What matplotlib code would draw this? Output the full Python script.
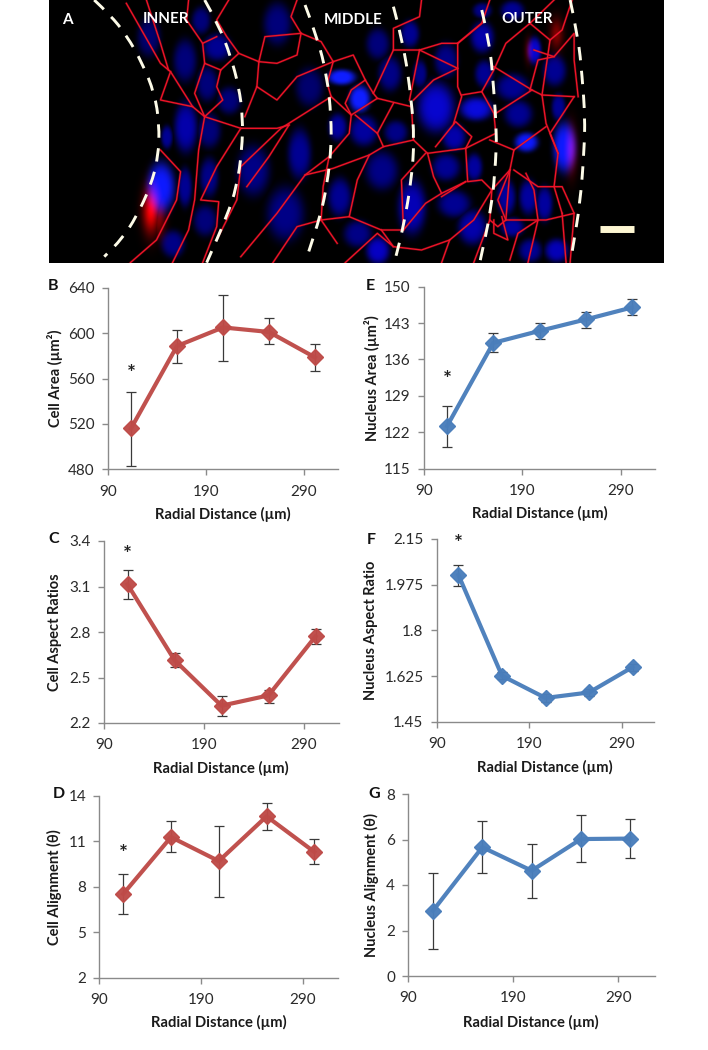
import numpy as np
import matplotlib
matplotlib.use("Agg")
import matplotlib.pyplot as plt
from matplotlib.path import Path
from matplotlib.patches import PathPatch

W, H = 708, 1050
plt.rcParams['font.family'] = ['Lato', 'DejaVu Sans']

radial = [113.5, 160.5, 207.5, 254.5, 301.5]

cell_area = [516, 588.6, 605, 601, 578.6]
cell_area_hi = [547.8, 603, 634, 613, 590]
cell_area_lo = [483, 574, 575.7, 590, 566.6]

cell_ratio = [3.114, 2.615, 2.314, 2.382, 2.771]
cell_ratio_hi = [3.207, 2.66, 2.378, 2.42, 2.82]
cell_ratio_lo = [3.018, 2.571, 2.246, 2.334, 2.719]

cell_align = [7.52, 11.27, 9.69, 12.64, 10.29]
cell_align_hi = [8.81, 12.33, 12.02, 13.49, 11.16]
cell_align_lo = [6.2, 10.26, 7.32, 11.71, 9.49]

nuc_area = [123.2, 139.2, 141.5, 143.7, 146]
nuc_area_hi = [127.1, 141, 143.1, 145.1, 147.6]
nuc_area_lo = [119.2, 137.4, 139.9, 142, 144.5]

nuc_ratio = [2.012, 1.626, 1.541, 1.562, 1.659]
nuc_ratio_hi = [2.05, 1.64, 1.555, 1.575, 1.672]
nuc_ratio_lo = [1.971, 1.612, 1.527, 1.549, 1.646]

nuc_align = [2.87, 5.66, 4.63, 6.02, 6.04]
nuc_align_hi = [4.54, 6.83, 5.79, 7.06, 6.9]
nuc_align_lo = [1.2, 4.54, 3.43, 5.0, 5.2]

x_ticks = [90, 190, 290]
RED, BLUE = '#BE4B48', '#4A7EBB'

# panel: letter, ylabel, values, hi, lo, yticks, ticklabels, colour, axes px box (l, r, top, bottom),
# star value, letter px, ylabel px x
panels = [
    ('B', 'Cell Area (µm²)', cell_area, cell_area_hi, cell_area_lo, [480, 520, 560, 600, 640],
     ['480', '520', '560', '600', '640'], RED, (108, 338, 287.7, 469.3), 564, (53, 286), 55),
    ('C', 'Cell Aspect Ratios', cell_ratio, cell_ratio_hi, cell_ratio_lo, [2.2, 2.5, 2.8, 3.1, 3.4],
     ['2.2', '2.5', '2.8', '3.1', '3.4'], RED, (104, 339, 541, 723), 3.31, (54, 539), 55),
    ('D', 'Cell Alignment (θ)', cell_align, cell_align_hi, cell_align_lo, [2, 5, 8, 11, 14],
     ['2', '5', '8', '11', '14'], RED, (99.3, 338.3, 795.7, 977.7), 10.15, (59, 794), 54),
    ('E', 'Nucleus Area (µm²)', nuc_area, nuc_area_hi, nuc_area_lo, [115, 122, 129, 136, 143, 150],
     ['115', '122', '129', '136', '143', '150'], BLUE, (424, 655, 286.7, 468.7), 132, (370, 286), 371.5),
    ('F', 'Nucleus Aspect Ratio', nuc_ratio, nuc_ratio_hi, nuc_ratio_lo, [1.45, 1.625, 1.8, 1.975, 2.15],
     ['1.45', '1.625', '1.8', '1.975', '2.15'], BLUE, (436.7, 654.3, 539, 721.7), 2.13, (371, 540), 371.5),
    ('G', 'Nucleus Alignment (θ)', nuc_align, nuc_align_hi, nuc_align_lo, [0, 2, 4, 6, 8],
     ['0', '2', '4', '6', '8'], BLUE, (408.3, 655, 794, 976), None, (374, 794), 371.5),
]
xlabel_px = {'B': (222.5, 514), 'C': (221, 768), 'D': (218.5, 1022), 'E': (540, 513), 'F': (545, 767), 'G': (531, 1022)}

# Micrograph A: features, (x, y) in zoom units
# x, y, width, height, brightness
nuclei = [
    (270,110,50,100,.35),(360,180,50,110,.4),(400,60,40,70,.4),(440,140,60,70,.5),(415,250,45,90,.4),
    (470,300,50,70,.4),(362,380,50,130,.6),(315,410,25,60,.5),(300,560,60,130,.95),(360,560,30,100,.5),
    (420,390,50,90,.4),(420,530,40,100,.45),(410,660,50,80,.4),(330,730,50,70,.45),(530,510,70,130,.45),
    (590,70,60,110,.4),(670,260,60,100,.35),(645,460,50,130,.5),(610,640,80,140,.45),(750,230,60,40,1.0),
    (795,295,45,70,1.0),(740,380,40,70,.55),(805,390,60,80,.55),(885,395,50,60,.45),(850,510,70,100,.45),
    (745,590,50,100,.5),(790,700,60,70,.45),(840,750,50,70,.7),(840,130,50,80,.4),(870,220,50,90,.45),
    (920,100,40,70,.5),(945,220,30,70,.45),(985,320,80,130,.75),(1085,325,70,60,.8),(1030,410,50,70,.6),
    (1010,180,50,90,.45),(1100,110,50,80,.6),(1105,220,40,70,.5),(1175,260,70,70,.5),(1190,340,60,70,.5),
    (1210,425,50,50,.95),(1010,500,60,70,.5),(1080,500,35,70,.55),(925,620,60,140,.65),(1030,610,70,70,.5),
    (1075,680,60,90,.6),(1160,590,40,90,.55),(1215,590,40,90,.55),(1255,610,35,90,.55),(1230,150,30,70,.75),
    (1280,210,50,80,.5),(1305,440,50,130,.95),(1175,680,50,50,.55),(1220,750,50,60,.5),(1285,750,50,60,.65),
    (1175,30,50,50,.5),(1100,30,40,40,.45),(1290,320,30,70,.5),
]
# x, y, width, height, strength of red glow
glows = [(275,630,30,100,1.0),(295,655,25,80,.5),(1322,450,22,110,.45),(1285,100,25,70,.5),(1215,150,15,60,.3)]
membranes = [
    [(215,10),(300,190),(325,215),(380,320),(410,350),(500,385),(590,385),(620,375)],
    [(265,0),(300,130),(320,210)],
    [(370,0),(365,60),(405,130),(410,190),(450,210),(495,160),(465,110),(440,60),(470,0)],
    [(405,130),(440,110)],
    [(410,190),(385,280),(410,350),(395,450),(385,600),(370,690),(330,788)],
    [(450,210),(440,260),(455,300),(410,350)],
    [(500,385),(440,500),(400,600),(445,605),(440,680),(405,788)],
    [(325,215),(300,300),(380,320)],
    [(300,450),(350,515),(340,600),(290,720),(225,788)],
    [(495,160),(545,185),(590,190),(640,165),(650,100),(625,50),(640,0)],
    [(545,185),(540,260),(510,350)],
    [(650,100),(560,110),(545,185)],
    [(650,100),(700,125),(730,185),(780,165),(810,240),(830,280),(880,150),(880,85),(945,50),(950,0)],
    [(730,185),(715,250),(725,290),(600,385),(500,500),(490,600),(440,720)],
    [(725,290),(775,345),(840,295),(925,320),(930,420),(855,440),(840,400),(880,310)],
    [(775,345),(770,400),(720,470),(660,525),(590,640),(500,770)],
    [(810,240),(775,270),(760,310),(775,345)],
    [(830,280),(840,295)],
    [(660,525),(730,505),(820,465),(855,440)],
    [(820,465),(790,540),(770,650),(700,660),(740,730)],
    [(930,420),(965,460),(1060,445),(1075,410),(1035,365),(985,440)],
    [(880,150),(945,150),(920,300)],
    [(945,150),(1040,205),(1040,260),(1050,290),(1030,370)],
    [(1040,205),(980,240),(930,300)],
    [(965,460),(980,530),(1000,580),(960,610),(905,690),(850,690),(790,660),(770,650)],
    [(850,690),(880,740),(840,700),(760,788)],
    [(1040,205),(1040,130),(1100,70),(1120,0)],
    [(1060,445),(1135,400),(1130,340),(1100,275),(1050,285)],
    [(1100,275),(1130,210),(1160,130),(1220,70),(1280,0)],
    [(1135,340),(1225,270),(1250,285),(1330,290)],
    [(1060,445),(1065,545),(1100,540),(1125,570),(1170,510),(1180,450),(1260,380)],
    [(1060,545),(1000,590)],
    [(1125,570),(1120,660),(1080,788)],
    [(1120,660),(1140,680),(1160,660),(1170,510)],
    [(1160,660),(1260,660),(1330,640),(1300,560),(1240,560),(1180,510)],
    [(1250,285),(1270,120),(1300,90),(1325,0)],
    [(1250,285),(1260,370),(1290,460),(1280,560),(1300,640)],
    [(1330,290),(1270,400),(1290,460)],
    [(1330,640),(1320,788)],
    [(1130,660),(1130,700),(1165,720),(1150,650)],
    [(1230,150),(1280,170),(1330,100),(1330,180),(1340,290)],
    [(1220,270),(1240,180),(1280,170)],
    [(880,740),(950,750),(1020,720),(1080,660),(1125,570)],
    [(1020,720),(1000,788)],
    [(580,788),(640,680),(700,660)],
    [(620,375),(570,470),(515,560)],
    [(720,470),(705,560),(700,660)],
    [(785,345),(840,400)],
    [(960,460),(900,540),(905,690)],
    [(1170,510),(1140,600),(1160,660)],
    [(1210,520),(1230,570),(1240,660),(1215,788)],
    [(1300,640),(1310,788)],
    [(1180,450),(1120,420)],
    [(1225,270),(1130,200)],
    [(1040,130),(1000,130),(945,150)],
    [(1240,660),(1190,700),(1170,780)],
    [(540,260),(590,300),(640,230),(730,185)],
    [(1270,120),(1220,70)],
    [(1000,580),(1060,545)],
    [(1100,70),(1040,130)],
]
dashes = [
    [(135,0),(175,45),(215,105),(255,190),(285,280),(297,370),(295,470),(275,560),(240,650),(205,715),(160,770)],
    [(410,0),(445,75),(475,170),(495,260),(505,350),(503,450),(490,560),(465,650),(415,788)],
    [(660,15),(690,110),(715,230),(725,350),(725,450),(715,550),(700,640),(665,770)],
    [(880,20),(905,130),(925,300),(932,420),(925,540),(905,680),(885,775)],
    [(1100,30),(1120,130),(1130,270),(1137,400),(1135,480),(1125,620),(1095,788)],
    [(1320,0),(1340,110),(1350,230),(1357,350),(1355,450),(1345,610),(1325,755)],
]


def zx(v):
    return 40 + v / 2.49


def zy(v):
    return v / 3


def smooth(points):
    pts = np.array([(zx(a), zy(b)) for a, b in points], float)
    verts = [pts[0]]
    codes = [Path.MOVETO]
    for i in range(1, len(pts) - 1):
        verts += [pts[i], (pts[i] + pts[i + 1]) / 2]
        codes += [Path.CURVE3, Path.CURVE3]
    verts.append(pts[-1])
    codes.append(Path.LINETO)
    return Path(verts, codes)


fig = plt.figure(figsize=(W / 100, H / 100), dpi=100, facecolor='white')


def box(l, r, top, bottom):
    return [l / W, 1 - bottom / H, (r - l) / W, (bottom - top) / H]


# ---------- panel A ----------
axA = fig.add_axes(box(49, 664, 0, 263))
yy, xx = np.mgrid[0:263, 49:664]
blue = np.zeros(xx.shape)
red = np.zeros(xx.shape)
green = np.zeros(xx.shape)
for a, b, w, h, s in nuclei:
    r2 = ((xx - zx(a)) / (w / 2.49 / 1.75)) ** 2 + ((yy - zy(b)) / (h / 3 / 1.75)) ** 2
    f = np.exp(-r2 ** 2)
    blue = np.maximum(blue, f * (s * .95 + .1))
    green = np.maximum(green, f * max(s - .7, 0) * .4)
    red = np.maximum(red, f * max(s - .5, 0) * .12)
for a, b, w, h, s in glows:
    r2 = ((xx - zx(a)) / (w / 2.49 / 1.5)) ** 2 + ((yy - zy(b)) / (h / 3 / 1.5)) ** 2
    red = np.maximum(red, np.exp(-r2) * s)
rgb = np.clip(np.dstack([red, green, blue]), 0, 1)
axA.imshow(rgb, extent=(49, 664, 263, 0), aspect='auto', interpolation='bilinear', zorder=0)
for m in membranes:
    mx = [zx(p[0]) for p in m]
    my = [zy(p[1]) for p in m]
    axA.plot(mx, my, color='#a00c1c', lw=1.8, alpha=.4, solid_joinstyle='round', zorder=1)
    axA.plot(mx, my, color='#f01428', lw=0.95, solid_joinstyle='round', zorder=2)
for d in dashes:
    axA.add_patch(PathPatch(smooth(d), fill=False, ec='#fdfbe8', lw=2.1,
                            linestyle=(0, (4.6, 3.6)), zorder=3))
axA.plot([600, 634], [228.5, 228.5], color='#fdf6d2', lw=5.0, solid_capstyle='butt', zorder=3)
axA.set_xlim(49, 664)
axA.set_ylim(263, 0)
axA.axis('off')
for s, xp, yp in [('A', 67, 20), ('INNER', 166, 19), ('MIDDLE', 353, 20), ('OUTER', 527, 19)]:
    axA.text(xp, yp, s, color='white', fontsize=11, fontweight='bold', ha='center', va='center', zorder=4)

# ---------- line panels ----------
for letter, ylab, vals, hi, lo, yt, ytl, col, bx, star, lp, ylx in panels:
    ax = fig.add_axes(box(*bx))
    ax.patch.set_alpha(0)
    ax.set_xlim(90, 325)
    ax.set_ylim(yt[0], yt[-1])
    v, h, l = np.array(vals), np.array(hi), np.array(lo)
    ax.errorbar(radial, vals, yerr=[v - l, h - v], fmt='none', ecolor='#3a3a3a', elinewidth=0.9,
                capsize=3.4, capthick=0.9, zorder=2, clip_on=False)
    ax.plot(radial, vals, color=col, lw=3.0, marker='D', ms=8.6, mfc=col, mec=col, zorder=3,
            clip_on=False, alpha=.97)
    ax.set_xticks(x_ticks)
    ax.set_yticks(yt)
    ax.set_yticklabels(ytl)
    for s in ('top', 'right'):
        ax.spines[s].set_visible(False)
    for s in ('left', 'bottom'):
        ax.spines[s].set_color('#8a8a8a')
        ax.spines[s].set_linewidth(1.0)
    ax.tick_params(axis='both', color='#8a8a8a', width=1.0, length=4, labelsize=11,
                   labelcolor='#2a2a2a')
    ax.tick_params(axis='x', pad=7)
    ax.tick_params(axis='y', pad=5.5)
    if star is not None:
        ax.text(radial[0], star, '*', fontsize=15, color='#222222', ha='center', va='center', fontweight='bold')
    fig.text(lp[0] / W, 1 - lp[1] / H, letter, fontsize=11.5, fontweight='bold', color='#111111',
             ha='center', va='center')
    fig.text(ylx / W, 1 - ((bx[2] + bx[3]) / 2) / H, ylab, fontsize=10.5, fontweight='bold', color='#1a1a1a',
             rotation=90, ha='center', va='center')
    xp, yp = xlabel_px[letter]
    fig.text(xp / W, 1 - yp / H, 'Radial Distance (µm)', fontsize=10.6, fontweight='bold', color='#1a1a1a',
             ha='center', va='center')

fig.savefig('out.png', dpi=100, facecolor='white')
